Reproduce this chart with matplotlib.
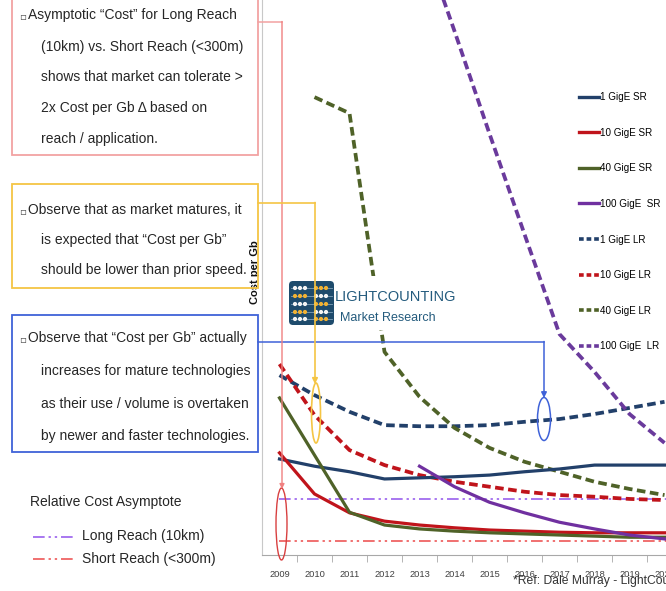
import matplotlib
matplotlib.use("Agg")
import matplotlib.pyplot as plt
from matplotlib.patches import Rectangle, Ellipse, FancyBboxPatch, Circle
from matplotlib.lines import Line2D

W, H = 666, 591
plt.rcParams['font.family'] = ['Liberation Sans', 'DejaVu Sans']

# ---- data: relative cost per Gb (arbitrary units) ----
years = list(range(2009, 2021))
year_labels = [str(y) for y in years]

sr_1g = [17.3, 16.0, 15.0, 13.7, 13.9, 14.1, 14.4, 15.0, 15.5, 16.2, 16.2, 16.2]
sr_10g = [18.4, 11.0, 7.6, 6.1, 5.4, 4.9, 4.5, 4.3, 4.1, 4.0, 4.0, 4.0]
sr_40g = [28.3, 18.0, 7.7, 5.4, 4.7, 4.3, 4.0, 3.8, 3.6, 3.4, 3.2, 3.2]
sr_100g_years = years[4:]
sr_100g = [16.0, 12.3, 9.5, 7.6, 5.9, 4.7, 3.6, 2.9]

lr_1g = [32.4, 28.8, 25.8, 23.4, 23.2, 23.2, 23.4, 24.0, 24.5, 25.4, 26.5, 27.6]
lr_10g = [34.4, 25.2, 18.9, 16.2, 14.4, 13.2, 12.3, 11.4, 10.8, 10.5, 10.1, 9.9]
lr_40g_years = years[1:]
lr_40g = [82.5, 79.6, 36.6, 28.5, 22.9, 19.3, 16.8, 15.0, 13.2, 11.9, 10.8]
lr_100g_years = years[4:]
lr_100g = [112.4, 94.4, 75.9, 57.8, 39.8, 33.0, 25.4, 20.2]

asym_long = 10.1   # Long Reach (10km)
asym_short = 2.5   # Short Reach (<300m)

series_labels = ["1 GigE SR", "10 GigE SR", "40 GigE SR", "100 GigE  SR",
                 "1 GigE LR", "10 GigE LR", "40 GigE LR", "100 GigE  LR"]

C_NAVY = "#22406A"
C_RED = "#C0141B"
C_OLIVE = "#4F6228"
C_PURPLE = "#7030A0"
C_PURPLE_D = "#6A3A9C"

fig = plt.figure(figsize=(W / 100, H / 100), dpi=100)
fig.patch.set_facecolor("white")

# plot area: x from px 262 to 682 (runs past the right edge), y from px 555 up to the top
ax = fig.add_axes([262 / W, (H - 555) / H, 420 / W, 555 / H])
ax.set_xlim(years[0] - 0.5, years[-1] + 0.5)
ax.set_ylim(0, 100)
ax.patch.set_alpha(0)

SOLID_LW = 2.3
DASH_LW = 2.7
DASH = (2.3, 1.2)
ASYM_LS = (0, (6, 2, 1.2, 2, 1.2, 2))

ax.hlines(asym_long, years[0], years[-1] + 0.5, colors="#A877F0", lw=1.4,
          linestyles=ASYM_LS, zorder=2)
ax.hlines(asym_short, years[0], years[-1] + 0.5, colors="#F07070", lw=1.4,
          linestyles=ASYM_LS, zorder=2)

ax.plot(years, lr_1g, color=C_NAVY, lw=DASH_LW, dashes=DASH, zorder=3)
ax.plot(years, lr_10g, color=C_RED, lw=DASH_LW, dashes=DASH, zorder=3)
ax.plot(lr_40g_years, lr_40g, color=C_OLIVE, lw=DASH_LW, dashes=DASH, zorder=3)
ax.plot(lr_100g_years, lr_100g, color=C_PURPLE_D, lw=DASH_LW, dashes=DASH, zorder=3)

ax.plot(years, sr_1g, color=C_NAVY, lw=SOLID_LW, zorder=4)
ax.plot(years, sr_10g, color=C_RED, lw=SOLID_LW, zorder=4)
ax.plot(years, sr_40g, color=C_OLIVE, lw=SOLID_LW, zorder=4)
ax.plot(sr_100g_years, sr_100g, color=C_PURPLE, lw=SOLID_LW, zorder=4)

for s in ("top", "right"):
    ax.spines[s].set_visible(False)
ax.spines["left"].set_color("#C8C8C8")
ax.spines["bottom"].set_color("#A8A8A8")
ax.set_yticks([])
ax.set_xticks(years)
ax.set_xticklabels(year_labels, fontsize=6.7, color="#404040")
ax.tick_params(axis="x", which="major", length=0, pad=11)
ax.set_xticks([y + 0.5 for y in years[:-1]], minor=True)
ax.tick_params(axis="x", which="minor", length=5, color="#A8A8A8")
ax.set_ylabel("Cost per Gb", fontsize=8, fontweight="bold", color="#111111")
ax.yaxis.set_label_coords(-0.004, 0.51)

# series legend
leg_handles = [
    Line2D([], [], color=C_NAVY, lw=2.4),
    Line2D([], [], color=C_RED, lw=2.4),
    Line2D([], [], color=C_OLIVE, lw=2.4),
    Line2D([], [], color=C_PURPLE, lw=2.4),
    Line2D([], [], color=C_NAVY, lw=2.6, dashes=(1.3, 0.8)),
    Line2D([], [], color=C_RED, lw=2.6, dashes=(1.3, 0.8)),
    Line2D([], [], color=C_OLIVE, lw=2.6, dashes=(1.3, 0.8)),
    Line2D([], [], color=C_PURPLE_D, lw=2.6, dashes=(1.3, 0.8)),
]
fig.legend(leg_handles, series_labels, loc="upper left",
           bbox_to_anchor=(579 / W, 1 - 92 / H), bbox_transform=fig.transFigure,
           frameon=False, fontsize=7.1, handlelength=2.0, handletextpad=0.1,
           labelspacing=2.6, borderpad=0, borderaxespad=0)

# ---- overlay in pixel units for callouts ----
ov = fig.add_axes([0, 0, 1, 1], zorder=5)
ov.set_xlim(0, W)
ov.set_ylim(H, 0)
ov.axis("off")
ov.patch.set_alpha(0)

TXT = "#262626"
FS = 10


def bullet_block(lines, ys):
    ov.text(19, ys[0] + 1, "▫", fontsize=7.5, color="#555555",
            family=['DejaVu Sans'], ha="left", va="center")
    ov.text(28, ys[0], lines[0], fontsize=FS, color=TXT, ha="left", va="center")
    for t, y in zip(lines[1:], ys[1:]):
        ov.text(41, y, t, fontsize=FS, color=TXT, ha="left", va="center")


# logo
ov.add_patch(Rectangle((286, 276), 158, 54, facecolor="white", edgecolor="none", zorder=1))
ov.add_patch(FancyBboxPatch((289, 281), 45, 44, boxstyle="round,pad=0,rounding_size=4",
                            facecolor="#1E4B6C", edgecolor="none", zorder=2))
for r, yy in enumerate([288, 296, 304, 312, 319]):
    ov.plot([291, 332], [yy, yy], color="#7FA0B8", lw=0.6, zorder=3)
    for k, xx in enumerate([295, 300, 305, 316, 321, 326]):
        col = "#F2B232" if (k < 3) == (r % 2 == 1) else "#F4F4F4"
        ov.add_patch(Circle((xx, yy), 2.1, facecolor=col, edgecolor="none", zorder=4))
ov.text(335, 297, "LIGHTCOUNTING", fontsize=10.5, color="#245B7D", ha="left",
        va="center", zorder=4)
ov.text(340, 318, "Market Research", fontsize=9, color="#245B7D", ha="left",
        va="center", zorder=4)

# red callout: asymptote
RED_C = "#F2A2A2"
ov.add_patch(Rectangle((12, -10), 246, 165, fill=False, edgecolor=RED_C, lw=1.3))
bullet_block(["Asymptotic “Cost” for Long Reach",
              "(10km) vs. Short Reach (<300m)",
              "shows that market can tolerate >",
              "2x Cost per Gb Δ based on",
              "reach / application."],
             [15, 47, 77, 108, 139])
ov.plot([258, 282], [22, 22], color=RED_C, lw=1.1)
ov.annotate("", xy=(282, 489), xytext=(282, 21.5),
            arrowprops=dict(arrowstyle="-|>", color="#F08080", lw=1.0,
                            mutation_scale=7, shrinkA=0, shrinkB=0))
ov.add_patch(Ellipse((281.5, 524), 11, 72, fill=False, edgecolor="#D84040", lw=1.0))

# yellow callout: expected ordering
YEL = "#F5C544"
ov.add_patch(Rectangle((12, 184), 246, 104, fill=False, edgecolor=YEL, lw=1.3))
bullet_block(["Observe that as market matures, it",
              "is expected that “Cost per Gb”",
              "should be lower than prior speed."],
             [210, 240, 270])
ov.plot([258, 315], [203, 203], color=YEL, lw=1.2, zorder=6)
ov.annotate("", xy=(315, 384), xytext=(315, 202.5),
            arrowprops=dict(arrowstyle="-|>", color=YEL, lw=1.2,
                            mutation_scale=8, shrinkA=0, shrinkB=0), zorder=6)
ov.add_patch(Ellipse((316, 413), 9, 60, fill=False, edgecolor=YEL, lw=1.2))

# blue callout: mature technologies
BLU = "#3F62D8"
ov.add_patch(Rectangle((12, 315), 246, 137, fill=False, edgecolor=BLU, lw=1.3))
bullet_block(["Observe that “Cost per Gb” actually",
              "increases for mature technologies",
              "as their use / volume is overtaken",
              "by newer and faster technologies."],
             [338, 371, 404, 436])
ov.plot([258, 544], [342, 342], color=BLU, lw=1.1)
ov.annotate("", xy=(544, 398), xytext=(544, 341.5),
            arrowprops=dict(arrowstyle="-|>", color=BLU, lw=1.1,
                            mutation_scale=8, shrinkA=0, shrinkB=0))
ov.add_patch(Ellipse((544, 419), 13, 43, fill=False, edgecolor=BLU, lw=1.1))

# asymptote key
ov.text(30, 502, "Relative Cost Asymptote", fontsize=10, color=TXT, ha="left", va="center")
ov.plot([33, 73], [537, 537], color="#A877F0", lw=1.4, ls=ASYM_LS)
ov.plot([33, 73], [559, 559], color="#F07070", lw=1.4, ls=ASYM_LS)
ov.text(82, 536, "Long Reach (10km)", fontsize=10, color=TXT, ha="left", va="center")
ov.text(82, 559, "Short Reach (<300m)", fontsize=10, color=TXT, ha="left", va="center")

# source note
ov.text(513, 581, "*Ref: Dale Murray - LightCounting", fontsize=8.7, color="#333333",
        ha="left", va="center")

fig.savefig("out.png", dpi=100)
